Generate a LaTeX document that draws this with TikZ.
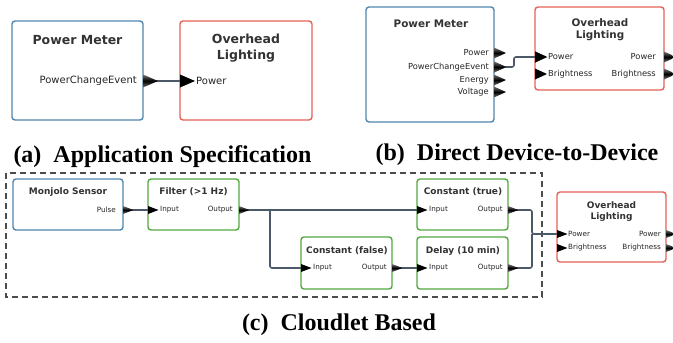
\documentclass[tikz,border=0pt]{standalone}
\usepackage{fontspec}
\setmainfont{Liberation Serif}
\newfontfamily\diagfont{DejaVu Sans}
\usetikzlibrary{shapes.geometric}

\definecolor{meterblue}{RGB}{80,134,176}
\definecolor{lightred}{RGB}{230,98,86}
\definecolor{procgreen}{RGB}{84,168,64}
\definecolor{wirecol}{RGB}{75,89,104}
\definecolor{txtcol}{RGB}{51,51,51}

\tikzset{
  blk/.style={draw, rounded corners=3pt, line width=1.4pt, fill=white, inner sep=0pt},
  meter/.style={blk, draw=meterblue},
  light/.style={blk, draw=lightred},
  proc/.style={blk, draw=procgreen},
  port/.style={isosceles triangle, isosceles triangle stretches, inner sep=0pt, outer sep=0pt, anchor=west},
  inport/.style={port, fill=black},
  outport/.style={port, top color=black!55, bottom color=black!55, middle color=black},
  pA/.style={minimum width=13pt, minimum height=15pt},
  pB/.style={minimum width=11pt, minimum height=12pt},
  pC/.style={minimum width=8pt, minimum height=10.5pt},
  ttl/.style={text=txtcol, align=center, inner sep=0pt},
  lbl/.style={text=black!85, inner sep=0pt},
  wire/.style={draw=wirecol, line width=1.6pt, rounded corners=2pt},
  caption/.style={inner sep=0pt, font=\fontsize{24}{26}\selectfont\bfseries}
}

\begin{document}
\begin{tikzpicture}[x=1pt, y=-1pt]
\useasboundingbox (0,0) rectangle (673,343);

% (a) application specification
\node[meter, minimum width=131pt, minimum height=99pt] (pmA) at (77.5,70.5) {};
\node[light, minimum width=132pt, minimum height=99pt] (olA) at (246,70.5) {};
\node[ttl, font=\diagfont\fontsize{12.5}{16}\selectfont\bfseries] (pmA-t) at (77.5,40) {Power Meter};
\node[ttl, font=\diagfont\fontsize{12.5}{16}\selectfont\bfseries] (olA-t) at (246,48) {Overhead\\Lighting};
\draw[wire] (149,81) -- (181,81);
\node[outport, pA] (pmA-pce) at (143,81) {};
\node[inport, pA] (olA-pow) at (180,81) {};
\node[lbl, anchor=east, font=\diagfont\fontsize{10}{12}\selectfont] (pmA-pce-l) at (137,81) {PowerChangeEvent};
\node[lbl, anchor=west, font=\diagfont\fontsize{10}{12}\selectfont] (olA-pow-l) at (196,81) {Power};

% (b) direct device-to-device
\node[meter, minimum width=128pt, minimum height=115pt] (pmB) at (430,64.5) {};
\node[light, minimum width=129pt, minimum height=83pt] (olB) at (599.5,48.5) {};
\node[ttl, font=\diagfont\fontsize{10.4}{12}\selectfont\bfseries] (pmB-t) at (431,24) {Power Meter};
\node[ttl, font=\diagfont\fontsize{10.4}{12}\selectfont\bfseries] (olB-t) at (600,30) {Overhead\\Lighting};
\foreach \y/\n/\t in {53/pow/Power, 67/pce/PowerChangeEvent, 80/nrg/Energy, 92/vlt/Voltage}{
  \node[outport, pB] (pmB-\n) at (494,\y) {};
  \node[lbl, anchor=east, font=\diagfont\fontsize{8.3}{10}\selectfont] (pmB-\n-l) at (489,\y) {\t};
}
\foreach \y/\n/\t in {57/pow/Power, 74/bri/Brightness}{
  \node[inport, pB] (olB-in-\n) at (535,\y) {};
  \node[lbl, anchor=west, font=\diagfont\fontsize{8.3}{10}\selectfont] (olB-in-\n-l) at (548,\y) {\t};
  \node[outport, pB] (olB-out-\n) at (664,\y) {};
  \node[lbl, anchor=east, font=\diagfont\fontsize{8.3}{10}\selectfont] (olB-out-\n-l) at (656,\y) {\t};
}
\coordinate (jog) at (514,57);
\draw[wire] (pmB-pce.center) -| (jog) -- (olB-in-pow.center);
\node[outport, pB] at (494,67) {};
\node[inport, pB] at (535,57) {};

% (c) cloudlet based
\draw[dashed, dash pattern=on 6pt off 4pt, line width=1.5pt, draw=black!70] (6,173) rectangle (542,297);
\node[meter, minimum width=110pt, minimum height=51pt] (msC) at (68,204.5) {};
\node[proc, minimum width=91pt, minimum height=51pt] (fltC) at (193.5,204.5) {};
\node[proc, minimum width=91pt, minimum height=51pt] (ctC) at (462.5,204.5) {};
\node[proc, minimum width=91pt, minimum height=52pt] (cfC) at (346.5,263) {};
\node[proc, minimum width=91pt, minimum height=52pt] (dlC) at (462.5,263) {};
\node[light, minimum width=109pt, minimum height=70pt] (olC) at (611.5,227) {};
\foreach \n/\x/\y/\t in {msC/68/192/Monjolo Sensor, fltC/193.5/192/Filter (>1 Hz), ctC/463/192/Constant (true),
  cfC/347/251/Constant (false), dlC/463/251/Delay (10 min)}{
  \node[ttl, font=\diagfont\fontsize{9}{11}\selectfont\bfseries] (\n-t) at (\x,\y) {\t};
}
\node[ttl, font=\diagfont\fontsize{9}{11}\selectfont\bfseries] (olC-t) at (611.5,211.5) {Overhead\\Lighting};

% wires first, ports on top
\coordinate (split) at (270,210);
\coordinate (merge) at (532,234);
\draw[wire] (123,210) -- (149,210);
\draw[wire] (239,210) -- (418,210);
\draw[wire] (split) |- (302,268);
\draw[wire] (392,268) -- (418,268);
\draw[wire] (508,210) -| (merge) -- (558,234);
\draw[wire] (508,268) -| (merge);

\node[outport, pC] (msC-pul) at (123,210) {};
\node[inport, pC] (fltC-in) at (148,210) {};
\node[outport, pC] (fltC-out) at (239,210) {};
\node[inport, pC] (ctC-in) at (417,210) {};
\node[outport, pC] (ctC-out) at (508,210) {};
\node[inport, pC] (cfC-in) at (301,268) {};
\node[outport, pC] (cfC-out) at (392,268) {};
\node[inport, pC] (dlC-in) at (417,268) {};
\node[outport, pC] (dlC-out) at (508,268) {};
\foreach \n/\x/\y/\a/\t in {msC-pul/116/210/east/Pulse, fltC-in/160/210/west/Input, fltC-out/233/210/east/Output,
  ctC-in/429/210/west/Input, ctC-out/503/210/east/Output, cfC-in/313/268/west/Input, cfC-out/387/268/east/Output,
  dlC-in/429/268/west/Input, dlC-out/503/268/east/Output}{
  \node[lbl, anchor=\a, font=\diagfont\fontsize{7.2}{9}\selectfont] (\n-l) at (\x,\y) {\t};
}
\foreach \y/\n/\t in {234/pow/Power, 248/bri/Brightness}{
  \node[inport, pC] (olC-in-\n) at (557,\y) {};
  \node[lbl, anchor=west, font=\diagfont\fontsize{7.2}{9}\selectfont] (olC-in-\n-l) at (568,\y) {\t};
  \node[outport, pC] (olC-out-\n) at (666,\y) {};
  \node[lbl, anchor=east, font=\diagfont\fontsize{7.2}{9}\selectfont] (olC-out-\n-l) at (661,\y) {\t};
}

% captions
\node[caption] (capA) at (162.5,157) {(a)~~Application Specification};
\node[caption] (capB) at (517,155) {(b)~~Direct Device-to-Device};
\node[caption] (capC) at (339,325) {(c)~~Cloudlet Based};

\end{tikzpicture}
\end{document}
